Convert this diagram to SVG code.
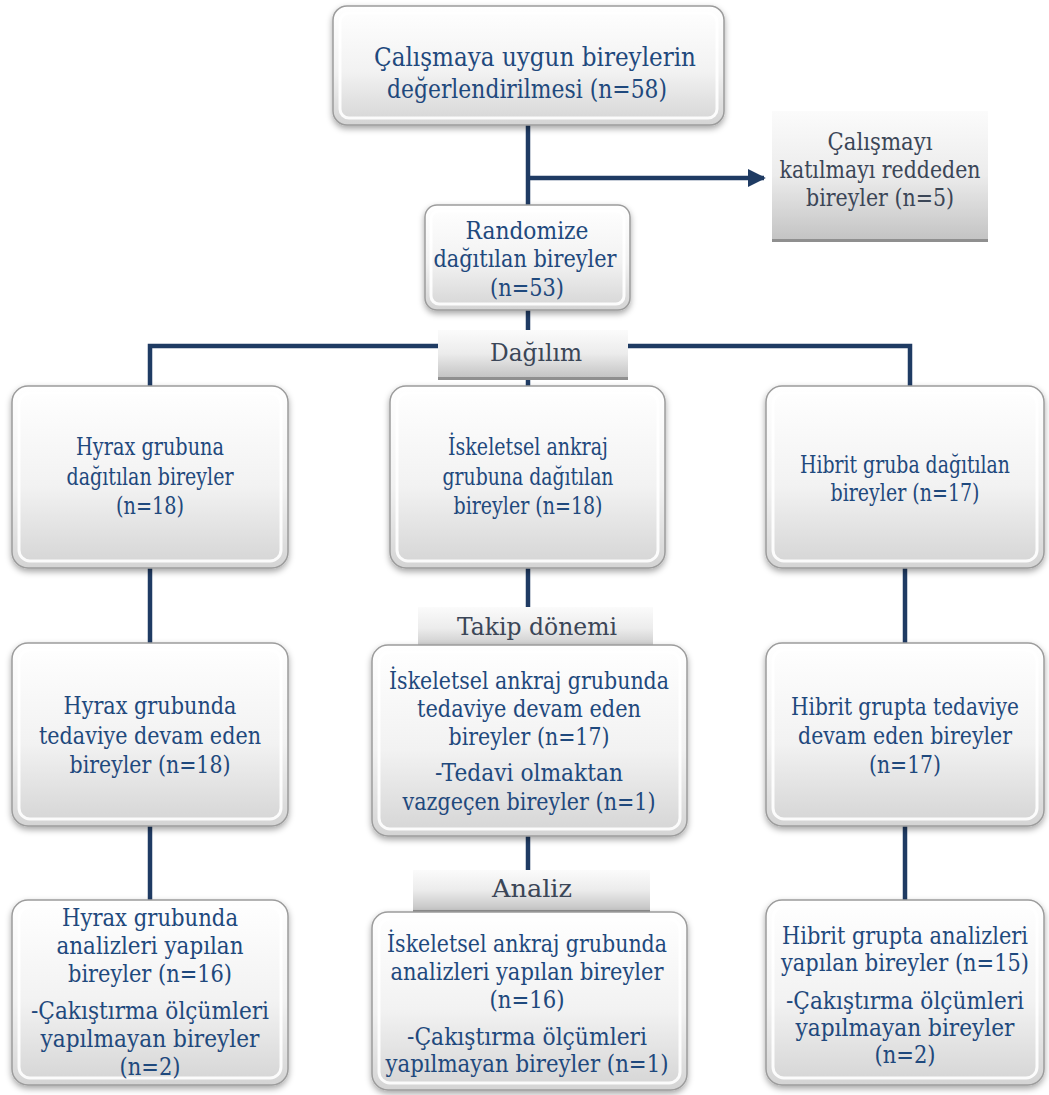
<svg xmlns="http://www.w3.org/2000/svg" width="1049" height="1095" viewBox="0 0 1049 1095">
<defs>
<linearGradient id="gBox" x1="0" y1="0" x2="0" y2="1">
<stop offset="0" stop-color="#ffffff"/>
<stop offset="0.55" stop-color="#f2f2f2"/>
<stop offset="1" stop-color="#d4d4d4"/>
</linearGradient>
<linearGradient id="gLab" x1="0" y1="0" x2="0" y2="1">
<stop offset="0" stop-color="#fbfbfb"/>
<stop offset="0.5" stop-color="#ececec"/>
<stop offset="1" stop-color="#c4c4c4"/>
</linearGradient>
<filter id="sh" x="-10%" y="-10%" width="120%" height="125%">
<feDropShadow dx="0" dy="3" stdDeviation="3" flood-color="#000" flood-opacity="0.35"/>
</filter>
<marker id="arr" viewBox="0 0 10 10" refX="9" refY="5" markerWidth="4" markerHeight="4" orient="auto" markerUnits="strokeWidth">
<path d="M0,0 L10,5 L0,10 z" fill="#1f3b63"/>
</marker>
<style>
.box{fill:url(#gBox);stroke:#9c9c9c;stroke-width:1.5;filter:url(#sh)}
.bev{fill:none;stroke:#ffffff;stroke-width:3;opacity:0.9}
.lab{fill:url(#gLab)}
.labb{fill:#8f8f8f}
text{font-family:'DejaVu Serif','Liberation Serif',serif}
.t{fill:#1f497d;text-anchor:middle}
.g{fill:#3b4657;text-anchor:middle}
.s23{font-size:23.5px}
.s24{font-size:24px}
.s25{font-size:24.5px}
.s26{font-size:26px}
.c{fill:none;stroke:#1f3b63;stroke-width:4.5}
</style>
</defs>
<rect width="1049" height="1095" fill="#ffffff"/>

<g id="connectors">
<path class="c" d="M528,125 V205"/>
<path class="c" d="M528,178 H764" marker-end="url(#arr)"/>
<path class="c" d="M528,310 V388"/>
<path class="c" d="M150,388 V346 H910 V388"/>
<path class="c" d="M150,568 V643"/>
<path class="c" d="M528,568 V610"/>
<path class="c" d="M905,568 V643"/>
<path class="c" d="M150,826 V900"/>
<path class="c" d="M528,836 V872"/>
<path class="c" d="M905,826 V900"/>
</g>

<g id="n-top">
<rect class="box" x="333" y="6" width="391" height="119" rx="14"/>
<rect class="bev" x="340" y="13" width="377" height="105" rx="9"/>
<text class="t s26" x="535" y="66" textLength="322" lengthAdjust="spacingAndGlyphs">Çalışmaya uygun bireylerin</text>
<text class="t s26" x="527" y="98" textLength="280" lengthAdjust="spacingAndGlyphs">değerlendirilmesi (n=58)</text>
</g>

<g id="n-reject">
<rect class="lab" x="772" y="111" width="216" height="128"/>
<rect class="labb" x="772" y="239" width="216" height="3"/>
<text class="g s24" x="880" y="150" textLength="105" lengthAdjust="spacingAndGlyphs">Çalışmayı</text>
<text class="g s24" x="880" y="178" textLength="201" lengthAdjust="spacingAndGlyphs">katılmayı reddeden</text>
<text class="g s24" x="880" y="206" textLength="148" lengthAdjust="spacingAndGlyphs">bireyler (n=5)</text>
</g>

<g id="n-random">
<rect class="box" x="425" y="205" width="205" height="105" rx="12"/>
<rect class="bev" x="431" y="211" width="193" height="93" rx="8"/>
<text class="t s25" x="527" y="239" textLength="123" lengthAdjust="spacingAndGlyphs">Randomize</text>
<text class="t s25" x="525" y="267" textLength="183" lengthAdjust="spacingAndGlyphs">dağıtılan bireyler</text>
<text class="t s25" x="527" y="296" textLength="74" lengthAdjust="spacingAndGlyphs">(n=53)</text>
</g>

<g id="l-dagilim">
<rect class="lab" x="438" y="330" width="190" height="47"/>
<rect class="labb" x="438" y="377" width="190" height="3"/>
<text class="g s25" x="536" y="361" textLength="92" lengthAdjust="spacingAndGlyphs">Dağılım</text>
</g>

<g id="n-hyrax1">
<rect class="box" x="12" y="386" width="276" height="182" rx="16"/>
<rect class="bev" x="19" y="393" width="262" height="168" rx="11"/>
<text class="t s23" x="150" y="455" textLength="148" lengthAdjust="spacingAndGlyphs">Hyrax grubuna</text>
<text class="t s23" x="150" y="485" textLength="167" lengthAdjust="spacingAndGlyphs">dağıtılan bireyler</text>
<text class="t s23" x="150" y="514" textLength="68" lengthAdjust="spacingAndGlyphs">(n=18)</text>
</g>

<g id="n-isk1">
<rect class="box" x="390" y="386" width="275" height="182" rx="16"/>
<rect class="bev" x="397" y="393" width="261" height="168" rx="11"/>
<text class="t s23" x="528" y="455" textLength="160" lengthAdjust="spacingAndGlyphs">İskeletsel ankraj</text>
<text class="t s23" x="528" y="485" textLength="171" lengthAdjust="spacingAndGlyphs">grubuna dağıtılan</text>
<text class="t s23" x="528" y="514" textLength="149" lengthAdjust="spacingAndGlyphs">bireyler (n=18)</text>
</g>

<g id="n-hib1">
<rect class="box" x="766" y="386" width="278" height="182" rx="16"/>
<rect class="bev" x="773" y="393" width="264" height="168" rx="11"/>
<text class="t s23" x="905" y="473" textLength="210" lengthAdjust="spacingAndGlyphs">Hibrit gruba dağıtılan</text>
<text class="t s23" x="905" y="501" textLength="149" lengthAdjust="spacingAndGlyphs">bireyler (n=17)</text>
</g>

<g id="l-takip">
<rect class="lab" x="418" y="607" width="235" height="43"/>
<rect class="labb" x="418" y="650" width="235" height="3"/>
<text class="g s25" x="537" y="635" textLength="160" lengthAdjust="spacingAndGlyphs">Takip dönemi</text>
</g>

<g id="n-hyrax2">
<rect class="box" x="12" y="643" width="276" height="183" rx="16"/>
<rect class="bev" x="19" y="650" width="262" height="169" rx="11"/>
<text class="t s24" x="150" y="714" textLength="173" lengthAdjust="spacingAndGlyphs">Hyrax grubunda</text>
<text class="t s24" x="150" y="744" textLength="222" lengthAdjust="spacingAndGlyphs">tedaviye devam eden</text>
<text class="t s24" x="150" y="773" textLength="161" lengthAdjust="spacingAndGlyphs">bireyler (n=18)</text>
</g>

<g id="n-isk2">
<rect class="box" x="372" y="645" width="315" height="191" rx="16"/>
<rect class="bev" x="379" y="652" width="301" height="177" rx="11"/>
<text class="t s24" x="529" y="689" textLength="280" lengthAdjust="spacingAndGlyphs">İskeletsel ankraj grubunda</text>
<text class="t s24" x="529" y="717" textLength="224" lengthAdjust="spacingAndGlyphs">tedaviye devam eden</text>
<text class="t s24" x="529" y="745" textLength="161" lengthAdjust="spacingAndGlyphs">bireyler (n=17)</text>
<text class="t s24" x="529" y="781" textLength="188" lengthAdjust="spacingAndGlyphs">-Tedavi olmaktan</text>
<text class="t s24" x="529" y="810" textLength="253" lengthAdjust="spacingAndGlyphs">vazgeçen bireyler (n=1)</text>
</g>

<g id="n-hib2">
<rect class="box" x="766" y="643" width="278" height="183" rx="16"/>
<rect class="bev" x="773" y="650" width="264" height="169" rx="11"/>
<text class="t s24" x="905" y="715" textLength="228" lengthAdjust="spacingAndGlyphs">Hibrit grupta tedaviye</text>
<text class="t s24" x="905" y="744" textLength="214" lengthAdjust="spacingAndGlyphs">devam eden bireyler</text>
<text class="t s24" x="905" y="773" textLength="72" lengthAdjust="spacingAndGlyphs">(n=17)</text>
</g>

<g id="l-analiz">
<rect class="lab" x="413" y="870" width="237" height="40"/>
<rect class="labb" x="413" y="910" width="237" height="3"/>
<text class="g s25" x="532" y="897" textLength="80" lengthAdjust="spacingAndGlyphs">Analiz</text>
</g>

<g id="n-hyrax3">
<rect class="box" x="12" y="900" width="276" height="185" rx="16"/>
<rect class="bev" x="19" y="907" width="262" height="171" rx="11"/>
<text class="t s25" x="150" y="926" textLength="176" lengthAdjust="spacingAndGlyphs">Hyrax grubunda</text>
<text class="t s25" x="150" y="954" textLength="187" lengthAdjust="spacingAndGlyphs">analizleri yapılan</text>
<text class="t s25" x="150" y="982" textLength="164" lengthAdjust="spacingAndGlyphs">bireyler (n=16)</text>
<text class="t s25" x="150" y="1019" textLength="238" lengthAdjust="spacingAndGlyphs">-Çakıştırma ölçümleri</text>
<text class="t s25" x="150" y="1047" textLength="219" lengthAdjust="spacingAndGlyphs">yapılmayan bireyler</text>
<text class="t s25" x="150" y="1075" textLength="61" lengthAdjust="spacingAndGlyphs">(n=2)</text>
</g>

<g id="n-isk3">
<rect class="box" x="372" y="912" width="315" height="178" rx="16"/>
<rect class="bev" x="379" y="919" width="301" height="164" rx="11"/>
<text class="t s25" x="527" y="952" textLength="280" lengthAdjust="spacingAndGlyphs">İskeletsel ankraj grubunda</text>
<text class="t s25" x="527" y="980" textLength="273" lengthAdjust="spacingAndGlyphs">analizleri yapılan bireyler</text>
<text class="t s25" x="527" y="1008" textLength="75" lengthAdjust="spacingAndGlyphs">(n=16)</text>
<text class="t s25" x="527" y="1045" textLength="240" lengthAdjust="spacingAndGlyphs">-Çakıştırma ölçümleri</text>
<text class="t s25" x="527" y="1072" textLength="283" lengthAdjust="spacingAndGlyphs">yapılmayan bireyler (n=1)</text>
</g>

<g id="n-hib3">
<rect class="box" x="766" y="900" width="278" height="185" rx="16"/>
<rect class="bev" x="773" y="907" width="264" height="171" rx="11"/>
<text class="t s25" x="905" y="944" textLength="246" lengthAdjust="spacingAndGlyphs">Hibrit grupta analizleri</text>
<text class="t s25" x="905" y="971" textLength="248" lengthAdjust="spacingAndGlyphs">yapılan bireyler (n=15)</text>
<text class="t s25" x="905" y="1009" textLength="238" lengthAdjust="spacingAndGlyphs">-Çakıştırma ölçümleri</text>
<text class="t s25" x="905" y="1036" textLength="219" lengthAdjust="spacingAndGlyphs">yapılmayan bireyler</text>
<text class="t s25" x="905" y="1063" textLength="61" lengthAdjust="spacingAndGlyphs">(n=2)</text>
</g>
</svg>
